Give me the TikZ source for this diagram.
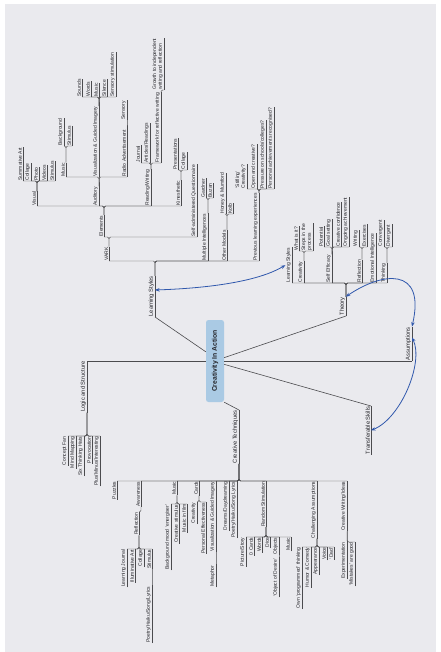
\documentclass[tikz,border=0pt]{standalone}
\usepackage{fontspec}
\setmainfont{Liberation Sans}
\usetikzlibrary{arrows.meta}
\definecolor{paper}{RGB}{234,234,238}
\definecolor{lin}{RGB}{75,75,78}
\definecolor{boxblue}{RGB}{170,202,228}
\definecolor{arr}{RGB}{48,88,172}
\definecolor{txt}{RGB}{35,35,40}
\tikzset{
 lbl/.style={rotate=90, font=\fontsize{5}{5.8}\selectfont, align=left, inner xsep=0.4pt, inner ysep=0.8pt, text=txt,
   append after command={(\tikzlastnode.south west) edge[ul] (\tikzlastnode.south east)}},
 maintopic/.style={font=\fontsize{5.8}{6.6}\selectfont},
 ul/.style={draw=lin, line width=.4pt},
 conn/.style={draw=lin, line width=.4pt, rounded corners=1.5pt},
 mainline/.style={draw=lin, line width=.6pt},
 centerbox/.style={rotate=90, fill=boxblue, rounded corners=2.5pt, minimum width=82pt, minimum height=18pt, inner sep=0pt, font=\bfseries\fontsize{6.8}{7.5}\selectfont, text=txt},
 blu/.style={draw=arr, line width=.8pt, {Stealth[length=4.5pt,width=3.5pt]}-{Stealth[length=4.5pt,width=3.5pt]}},
}
\newcommand\UPN[4]{\node[lbl,anchor=south west] (#1) at (#2,#3) {#4};}
\newcommand\DNN[4]{\node[lbl,anchor=south east] (#1) at (#2,#3) {#4};}
\newcommand\UPC[2]{\draw[conn] (#1.south east) |- (#2.south west);}
\newcommand\DNC[2]{\draw[conn] (#1.south west) |- (#2.south east);}
\begin{document}
\begin{tikzpicture}[x=1pt,y=-1pt]
\useasboundingbox (0,0) rectangle (440,652);
\fill[white] (0,0) rectangle (440,652);
\fill[paper] (5,4) rectangle (436,652);

% centre
\node[centerbox] (C) at (215,361) {Creativity In Action};

% main topics
\node[lbl,maintopic,anchor=south west] (LS) at (155,317) {Learning Styles};
\node[lbl,maintopic,anchor=south east] (LG) at (87,361) {Logic and Structure};
\node[lbl,maintopic,anchor=south east] (CT) at (239,410) {Creative Techniques};
\node[lbl,maintopic,anchor=south west] (TH) at (346,316) {Theory};
\node[lbl,maintopic,anchor=south west] (AS) at (412,361) {Assumptions};
\node[lbl,maintopic,anchor=south east] (TS) at (371,406) {Transferable Skills};

\draw[mainline] (C.45) -- (LS.south west);
\draw[mainline] (C.north) -- (LG.south east);
\draw[mainline] (C.south west) -- (CT.south east);
\draw[mainline] (C.-70) -- (TH.south west);
\draw[mainline] (C.south) -- (AS.south west);
\draw[mainline] (C.-110) -- (TS.south east);

% ---------- Learning Styles ----------
\UPN{vark}{109}{261}{VARK}
\UPN{mi}{208}{261}{Multiple Intelligences}
\UPN{om}{227}{261}{Other Models}
\UPN{ple}{259}{261}{Previous learning experiences}
\UPC{LS}{vark}\UPC{LS}{mi}\UPC{LS}{om}\UPC{LS}{ple}

\UPN{elem}{104}{237}{Elements}
\UPN{saq}{197}{237}{Self-administered Questionnaire}
\UPC{vark}{elem}\UPC{vark}{saq}

\UPN{vis}{37}{206}{Visual}
\UPN{aud}{99}{206}{Auditory}
\UPN{rw}{151}{206}{Reading/Writing}
\UPN{kin}{181}{206}{Kinesthetic}
\UPC{elem}{vis}\UPC{elem}{aud}\UPC{elem}{rw}\UPC{elem}{kin}

\UPN{sumart}{23}{181}{Summative Art}
\UPN{colA}{31}{181}{Collage}
\UPN{photo}{39}{181}{Photo}
\UPN{videos}{47}{181}{Videos}
\UPN{stimA}{55}{181}{Stimulus}
\UPC{vis}{sumart}\UPC{vis}{colA}\UPC{vis}{photo}\UPC{vis}{videos}\UPC{vis}{stimA}

\UPN{musA}{66}{177}{Music}
\UPN{vgiA}{99}{177}{Visualization \& Guided Imagery}
\UPN{radio}{127}{177}{Radio Advertisement}
\UPC{aud}{musA}\UPC{aud}{vgiA}\UPC{aud}{radio}

\UPN{bg}{64}{146}{Background}
\UPN{stimB}{72}{146}{Stimulus}
\UPC{musA}{bg}\UPC{musA}{stimB}

\UPN{sounds}{82}{97}{Sounds}
\UPN{wordsA}{91}{97}{Words}
\UPN{musB}{99}{97}{Music}
\UPN{silence}{107}{97}{Silence}
\UPN{sensstim}{116}{97}{Sensory stimulation}
\UPC{vgiA}{sounds}\UPC{vgiA}{wordsA}\UPC{vgiA}{musB}\UPC{vgiA}{silence}\UPC{vgiA}{sensstim}

\UPN{sensory}{127}{120}{Sensory}
\UPC{radio}{sensory}

\UPN{journal}{141}{163}{Journal}
\UPN{articles}{150}{163}{Articles/Readings}
\UPN{framework}{161}{163}{Framework for reflective writing}
\UPC{rw}{journal}\UPC{rw}{articles}\UPC{rw}{framework}
\UPN{growth}{164}{90}{Growth to independent\\writing and reflection}
\UPC{framework}{growth}

\UPN{pres}{178}{170}{Presentations}
\UPN{colB}{187}{170}{Collage}
\UPC{kin}{pres}\UPC{kin}{colB}

\UPN{gardner}{206}{198}{Gardner}
\UPN{buzan}{213}{198}{Buzan}
\UPC{mi}{gardner}\UPC{mi}{buzan}

\UPN{honey}{226}{214}{Honey \& Mumford}
\UPN{kolb}{233}{214}{Kolb}
\UPC{om}{honey}\UPC{om}{kolb}

\UPN{stifling}{247}{189}{`Stifling'\\Creativity?}
\UPN{open}{257}{189}{Open and creative?}
\UPN{pressure}{266}{189}{Pressure on schools/colleges?}
\UPN{personal}{274}{189}{Personal achievements recognised?}
\UPC{ple}{stifling}\UPC{ple}{open}\UPC{ple}{pressure}\UPC{ple}{personal}

% ---------- Theory ----------
\UPN{tls}{292}{283}{Learning Styles}
\UPN{tcre}{304}{283}{Creativity}
\UPN{tse}{332}{283}{Self Efficacy}
\UPN{tref}{362}{283}{Reflection}
\UPN{tei}{376}{283}{Emotional Intelligence}
\UPN{tthk}{387}{283}{Thinking}
\UPC{TH}{tls}\UPC{TH}{tcre}\UPC{TH}{tse}\UPC{TH}{tref}\UPC{TH}{tei}\UPC{TH}{tthk}

\UPN{whatis}{299}{251}{What is it?}
\UPN{steps}{313}{251}{Steps in the\\process}
\UPC{tcre}{whatis}\UPC{tcre}{steps}

\UPN{potential}{324}{247}{Potential}
\UPN{goal}{332}{247}{Goal setting}
\UPN{cconf}{341}{247}{Creative confidence}
\UPN{ongoing}{349}{247}{Ongoing achievement}
\UPC{tse}{potential}\UPC{tse}{goal}\UPC{tse}{cconf}\UPC{tse}{ongoing}

\UPN{writing}{359}{247}{Writing}
\UPN{exercises}{367}{247}{Exercises}
\UPC{tref}{writing}\UPC{tref}{exercises}

\UPN{conv}{384}{247}{Convergent}
\UPN{div}{392}{247}{Divergent}
\UPC{tthk}{conv}\UPC{tthk}{div}

% ---------- Logic and Structure ----------
\DNN{cfan}{68}{436}{Concept Fan}
\DNN{mmap}{76}{436}{Mind Mapping}
\DNN{sth}{84}{436}{Six Thinking Hats}
\DNN{prov}{92}{436}{Provocation}
\DNN{pmi}{100}{436}{Plus/Minus/Interesting}
\DNC{LG}{cfan}\DNC{LG}{mmap}\DNC{LG}{sth}\DNC{LG}{prov}\DNC{LG}{pmi}

% ---------- Creative Techniques ----------
\DNN{puz}{117}{481}{Puzzles}
\DNN{awa}{141}{481}{Awareness}
\DNN{cmus}{177}{481}{Music}
\DNN{cards}{199}{481}{Cards}
\DNN{cvgi}{216}{481}{Visualization \& Guided Imagery}
\DNN{dream}{229}{481}{Dreams/Daydreaming}
\DNN{cpoet}{237}{481}{Poetry/Haiku/Song Lyrics}
\DNN{rs}{266}{481}{Random Stimulation}
\DNN{ca}{317}{481}{Challenging Assumptions}
\DNN{cw}{347}{481}{Creative Writing/Ideas}
\DNC{CT}{puz}\DNC{CT}{awa}\DNC{CT}{cmus}\DNC{CT}{cards}\DNC{CT}{cvgi}
\DNC{CT}{dream}\DNC{CT}{cpoet}\DNC{CT}{rs}\DNC{CT}{ca}\DNC{CT}{cw}

\DNN{refl}{139}{512}{Reflection}
\DNC{awa}{refl}
\DNN{lj}{127}{549}{Learning Journal}
\DNN{illart}{135}{549}{Illuminative Art}
\DNN{colC}{144}{549}{Collage}
\DNN{stimC}{152}{549}{Stimulus}
\DNC{refl}{lj}\DNC{refl}{illart}\DNC{refl}{colC}\DNC{refl}{stimC}
\DNN{poetry}{152}{586}{Poetry/Haiku/Song/Lyrics}
\DNC{stimC}{poetry}

\DNN{bgm}{171}{504}{Background mood `energiser'}
\DNN{cstim}{179}{504}{Creative stimulus}
\DNN{mfilm}{187}{504}{Music in film}
\DNC{cmus}{bgm}\DNC{cmus}{cstim}\DNC{cmus}{mfilm}

\DNN{ccre}{197}{502}{Creativity}
\DNN{pe}{206}{502}{Personal Effectiveness}
\DNC{cards}{ccre}\DNC{cards}{pe}

\DNN{meta}{216}{565}{Metaphor}
\DNC{cvgi}{meta}

\DNN{pic}{246}{537}{Picture/Story}
\DNN{ocards}{254}{537}{0 Cards}
\DNN{wordsB}{262}{537}{Words}
\DNN{dice}{270}{537}{Dice}
\DNN{objs}{279}{537}{Objects}
\DNN{rmus}{291}{537}{Music}
\DNC{rs}{pic}\DNC{rs}{ocards}\DNC{rs}{wordsB}\DNC{rs}{dice}\DNC{rs}{objs}\DNC{rs}{rmus}
\DNN{ood}{279}{558}{`Object of Desire'}
\DNC{objs}{ood}

\DNN{own}{302}{547}{Own `programmed' thinking}
\DNN{humor}{311}{547}{Humor \& Comedy}
\DNN{appear}{319}{547}{Appearance}
\DNN{voice}{327}{547}{Voice}
\DNN{dad}{334}{547}{`Dad'}
\DNC{ca}{own}\DNC{ca}{humor}\DNC{ca}{appear}\DNC{ca}{voice}\DNC{ca}{dad}

\DNN{exper}{347}{542}{Experimentation}
\DNN{mist}{355}{542}{`Mistakes' are good}
\DNC{cw}{exper}\DNC{cw}{mist}

% ---------- blue relations ----------
\draw[blu] (LS.-30) .. controls +(60,-2) and +(-25,15) .. (tls.north);
\draw[blu] (TH.-20) .. controls (382,272) and (426,266) .. (AS.south east);
\draw[blu] (TS.south) .. controls +(30,-12) and +(12,25) .. (AS.-30);
\end{tikzpicture}
\end{document}
